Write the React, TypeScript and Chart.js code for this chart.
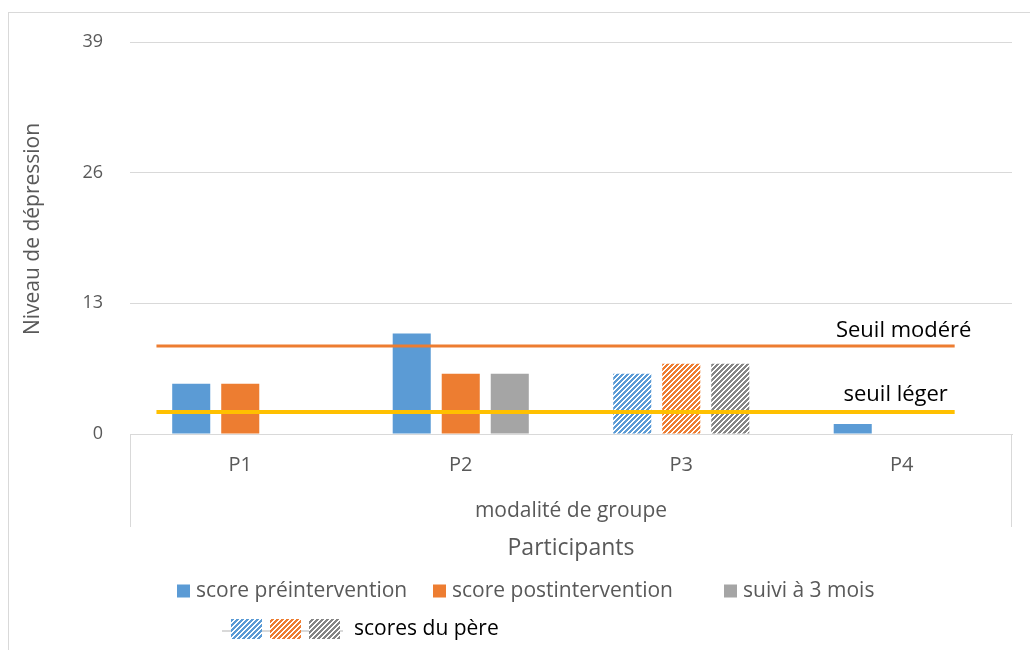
import React, { useEffect, useRef } from "react";
import { Chart, registerables } from "chart.js";

Chart.register(...registerables);

// ---- data ----
const categories = ["P1", "P2", "P3", "P4"];
const seriesNames = ["score préintervention", "score postintervention", "suivi à 3 mois"];
const preScores: (number | null)[] = [5, 10, 6, 1];
const postScores: (number | null)[] = [5, 6, 7, null];
const followUpScores: (number | null)[] = [null, 6, 7, null];
const fatherCategories = ["P3"];
const fatherLabel = "scores du père";
const yMin = 0;
const yMax = 39;
const yStep = 13;
const thresholdNames = ["Seuil modéré", "seuil léger"];
const thresholdValues = [8.75, 2.2];
// start / end of the threshold lines, in category-index units (P1 = 0 … P4 = 3)
const thresholdSpan = [-0.38, 3.24];
const groupLabel = "modalité de groupe";
const xTitle = "Participants";
const yTitle = "Niveau de dépression";

const BLUE = "#5B9BD5";
const ORANGE = "#ED7D31";
const GRAY = "#A5A5A5";
const GRAY_HATCH = "#858585";
const YELLOW = "#FFC000";
const TEXT = "#595959";
const LINE = "#d9d9d9";
const FONT = "'Open Sans', 'Noto Sans', sans-serif";

function makeHatch(color: string): CanvasPattern | string {
  const n = 10;
  const c = document.createElement("canvas");
  c.width = n;
  c.height = n;
  const g = c.getContext("2d");
  if (!g) return color;
  g.fillStyle = "#ffffff";
  g.fillRect(0, 0, n, n);
  g.fillStyle = color;
  for (let y = 0; y < n; y++) {
    for (let x = 0; x < n; x++) {
      if ((x + y) % 5 < 3) g.fillRect(x, y, 1, 1);
    }
  }
  return g.createPattern(c, "repeat") || color;
}

export default function App() {
  const canvasRef = useRef<HTMLCanvasElement | null>(null);

  useEffect(() => {
    document.body.style.margin = "0";
    const canvas = canvasRef.current;
    if (!canvas) return;

    const solid = [BLUE, ORANGE, GRAY];
    const hatches = [makeHatch(BLUE), makeHatch(ORANGE), makeHatch(GRAY_HATCH)];
    const values = [preScores, postScores, followUpScores];

    const barDatasets = values.map((vals, i) => ({
      type: "bar" as const,
      label: seriesNames[i],
      data: vals,
      xAxisID: "x",
      yAxisID: "y",
      order: 1,
      backgroundColor: (c: any) =>
        fatherCategories.includes(categories[c.dataIndex]) ? hatches[i] : solid[i],
      borderWidth: 0,
      categoryPercentage: 0.667,
      barPercentage: 0.776,
    }));

    const thresholdColors = [ORANGE, YELLOW];
    const thresholdWidths = [3, 4];
    const lineDatasets = thresholdValues.map((v, i) => ({
      type: "line" as const,
      label: thresholdNames[i],
      data: thresholdSpan.map((x) => ({ x, y: v })),
      parsing: false,
      xAxisID: "x",
      yAxisID: "y",
      order: 0,
      borderColor: thresholdColors[i],
      borderWidth: thresholdWidths[i],
      pointRadius: 0,
      fill: false,
      clip: false,
    }));

    const decor = {
      id: "decor",
      beforeDraw(chart: any) {
        const ctx = chart.ctx as CanvasRenderingContext2D;
        ctx.save();
        ctx.fillStyle = "#ffffff";
        ctx.fillRect(0, 0, chart.width, chart.height);
        ctx.strokeStyle = LINE;
        ctx.lineWidth = 1;
        ctx.strokeRect(8.5, 12.5, 1200, 1000);
        ctx.restore();
      },
      afterDraw(chart: any) {
        const ctx = chart.ctx as CanvasRenderingContext2D;
        const area = chart.chartArea;
        const yScale = chart.scales.y;
        const xScale = chart.scales.x;
        ctx.save();
        // multi-level category box
        ctx.strokeStyle = LINE;
        ctx.lineWidth = 1;
        ctx.beginPath();
        ctx.moveTo(Math.round(area.left) + 0.5, area.bottom);
        ctx.lineTo(Math.round(area.left) + 0.5, area.bottom + 93);
        ctx.moveTo(Math.round(area.right) - 0.5, area.bottom);
        ctx.lineTo(Math.round(area.right) - 0.5, area.bottom + 93);
        ctx.stroke();

        const cx = (area.left + area.right) / 2;
        ctx.fillStyle = TEXT;
        ctx.textAlign = "center";
        ctx.textBaseline = "middle";
        ctx.font = `21px ${FONT}`;
        ctx.fillText(groupLabel, cx, area.bottom + 77);
        ctx.font = `23px ${FONT}`;
        ctx.fillText(xTitle, cx, area.bottom + 114);

        // y title
        ctx.save();
        ctx.translate(33, 229);
        ctx.rotate(-Math.PI / 2);
        ctx.font = `21px ${FONT}`;
        ctx.fillText(yTitle, 0, 0);
        ctx.restore();

        // threshold labels
        ctx.fillStyle = "#000000";
        ctx.font = `22px ${FONT}`;
        const labelDx = [-51, -59];
        const labelDy = [-15, -17];
        thresholdValues.forEach((v, i) => {
          const px = xScale.getPixelForValue(thresholdSpan[1]);
          const py = yScale.getPixelForValue(v);
          ctx.fillText(thresholdNames[i], px + labelDx[i], py + labelDy[i]);
        });

        // legend row 1
        ctx.font = `21px ${FONT}`;
        ctx.textAlign = "left";
        const box = 13;
        const itemX = [177, 433, 724];
        const row1 = 591;
        seriesNames.forEach((s, i) => {
          ctx.fillStyle = solid[i];
          ctx.fillRect(itemX[i], row1 - 6.5, box, box);
          ctx.fillStyle = TEXT;
          ctx.fillText(s, itemX[i] + box + 6, row1);
        });

        // legend row 2
        const row2 = 629;
        ctx.strokeStyle = LINE;
        ctx.lineWidth = 2;
        ctx.beginPath();
        ctx.moveTo(222, row2 + 2);
        ctx.lineTo(343, row2 + 2);
        ctx.stroke();
        hatches.forEach((h, i) => {
          ctx.fillStyle = h as any;
          ctx.fillRect(231 + i * 39, row2 - 10, 31, 20);
        });
        ctx.fillStyle = "#000000";
        ctx.fillText(fatherLabel, 354, row2);
        ctx.restore();
      },
    };

    const chart = new Chart(canvas, {
      type: "bar",
      data: {
        labels: categories,
        datasets: [...lineDatasets, ...barDatasets] as any,
      },
      options: {
        animation: false,
        responsive: false,
        devicePixelRatio: 1,
        layout: { padding: { top: 42, right: 18, left: 0, bottom: 0 } },
        plugins: {
          legend: { display: false },
          tooltip: { enabled: false },
        },
        scales: {
          x: {
            type: "category",
            offset: true,
            grid: { display: false, drawTicks: false },
            border: { display: true, color: LINE, width: 1 },
            ticks: {
              color: TEXT,
              font: { family: FONT, size: 20 },
              padding: 19,
              maxRotation: 0,
              autoSkip: false,
            },
            afterFit: (s: any) => {
              s.height = 216;
            },
          },
          y: {
            type: "linear",
            min: yMin,
            max: yMax,
            grid: { color: LINE, lineWidth: 1, drawTicks: false },
            border: { display: false },
            ticks: {
              stepSize: yStep,
              color: TEXT,
              font: { family: FONT, size: 18 },
              padding: 27,
            },
            afterFit: (s: any) => {
              s.width = 130;
            },
          },
        },
      } as any,
      plugins: [decor],
    });

    return () => {
      chart.destroy();
    };
  }, []);

  return (
    <div style={{ width: 1030, height: 650, overflow: "hidden" }}>
      <canvas ref={canvasRef} width={1030} height={650} style={{ display: "block" }} />
    </div>
  );
}
